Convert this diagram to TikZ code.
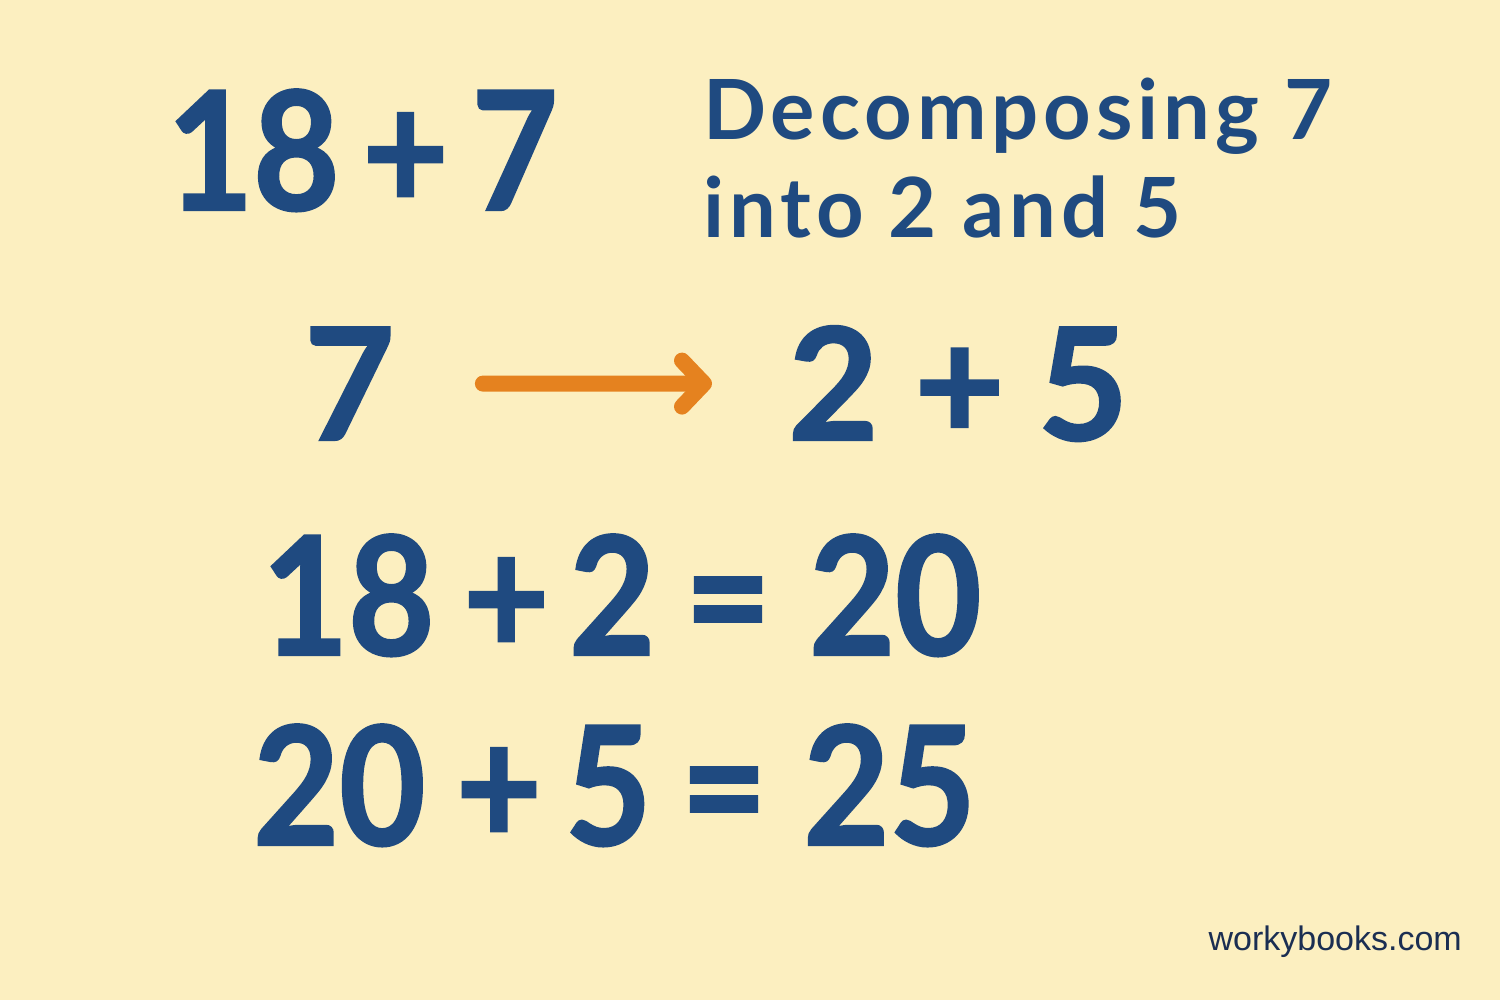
\documentclass[tikz,border=0pt]{standalone}
\usepackage{fontspec}
\setmainfont{Lato}
\newfontfamily\numfont[FakeStretch=0.9, FakeBold=1.5]{Lato}
\newfontfamily\widefont[FakeBold=1.5]{Lato}
\newfontfamily\capfont[LetterSpace=6]{Lato}
\newfontfamily\sitefont{Liberation Sans}
\usetikzlibrary{arrows.meta, positioning}
\definecolor{paper}{HTML}{FCEFC0}
\definecolor{ink}{HTML}{1F4A80}
\definecolor{carrot}{HTML}{E5821F}
\definecolor{navy}{HTML}{1B2E52}
\newcommand{\gap}{\kern0.14em}
\tikzstyle{bignum} = [text=ink, font=\numfont\bfseries\fontsize{165}{165}\selectfont, inner sep=0pt, anchor=base west]
\tikzstyle{midnum} = [text=ink, font=\widefont\bfseries\fontsize{156}{156}\selectfont, inner sep=0pt, anchor=base west]
\tikzstyle{caption} = [text=ink, font=\capfont\bfseries\fontsize{83}{98}\selectfont, inner sep=0pt, anchor=base west, align=left]
\tikzstyle{splitarrow} = [draw=carrot, line width=16pt, line cap=round, -{Straight Barb[length=22pt, width=46pt, round]}]

\begin{document}
\begin{tikzpicture}[x=1pt, y=1pt]
	\fill[paper] (0,0) rectangle (1500,1000);
	\useasboundingbox (0,0) rectangle (1500,1000);
	% the sum
	\node [bignum] (sum) at (167,790) {18\gap+\gap7};
	\node [caption] (idea) at (703,762) {Decomposing 7\\into 2 and 5};
	% splitting the 7
	\node [midnum] (seven) at (304,560) {7};
	\node [midnum] (parts) at (788,560) {2\kern0.23em+\kern0.21em5};
	\draw [splitarrow, shorten <=88pt, shorten >=76pt] (seven.east) -- (parts.west);
	% the two steps
	\node [bignum] (stepone) at (262,345) {18\kern0.175em+\kern0.12em2\kern0.18em=\kern0.23em20};
	\node [bignum] (steptwo) at (253,155) {20\kern0.185em+\gap5\kern0.18em=\kern0.22em25};
	\node [text=navy, font=\sitefont\fontsize{34}{34}\selectfont, inner sep=0pt, anchor=base east] (site) at (1462,49) {workybooks.com};
\end{tikzpicture}
\end{document}
